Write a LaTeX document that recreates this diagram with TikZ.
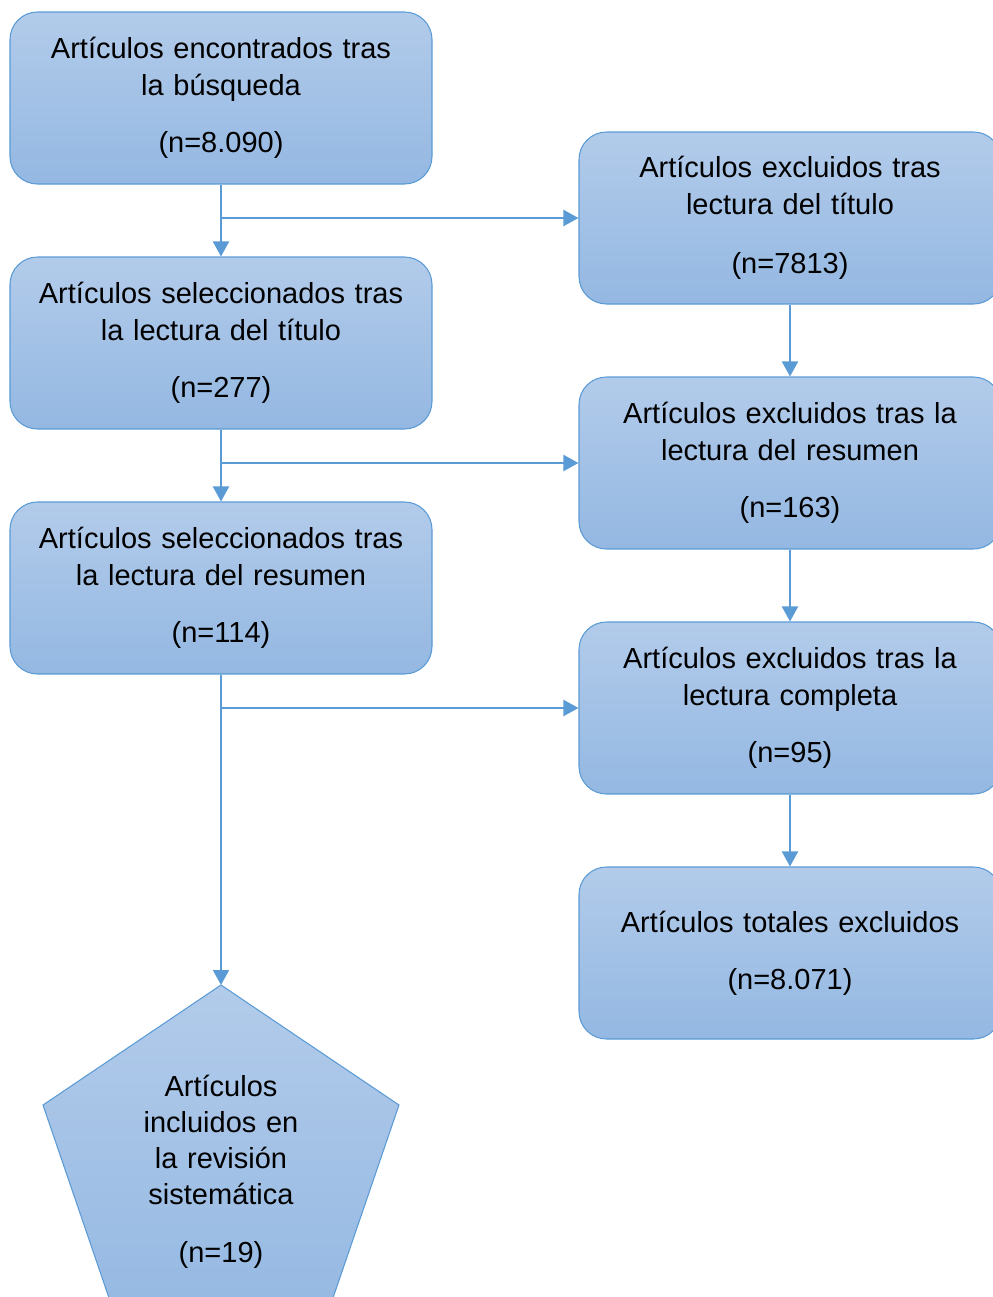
\documentclass[tikz,border=0pt]{standalone}
\usepackage{fontspec}
\setmainfont{Liberation Sans}
\usepackage{xcolor}
\usetikzlibrary{shapes.geometric, arrows.meta}
\definecolor{boxtop}{RGB}{178,203,234}
\definecolor{boxbot}{RGB}{148,184,226}
\definecolor{boxline}{RGB}{91,155,213}
\tikzstyle{block} = [rectangle, draw=boxline, line width=0.6pt, rounded corners=0.55cm, text width=7.9cm, text centered, minimum width=8.44cm, minimum height=3.44cm, top color=boxtop, bottom color=boxbot, font=\fontsize{16.5}{21}\selectfont]
\tikzstyle{pent} = [draw=boxline, line width=0.6pt, top color=boxtop, bottom color=boxbot]
\tikzstyle{blank} = [text width=3.4cm, text centered, inner sep=0, font=\fontsize{16.5}{20.5}\selectfont]
\tikzstyle{line} = [draw=boxline, line width=0.04cm, ->, >={Triangle[length=0.3cm,width=0.32cm]}]

\begin{document}
\begin{tikzpicture}[node distance=4.9cm]

\clip (0,0) rectangle (19.86,-25.94);

\node [block] (L1) at (4.42,-1.96) {Artículos encontrados tras\\la búsqueda\\[0.4cm](n=8.090)};
\node [block, below of=L1] (L2) {Artículos seleccionados tras\\la lectura del título\\[0.4cm](n=277)};
\node [block, below of=L2] (L3) {Artículos seleccionados tras\\la lectura del resumen\\[0.4cm](n=114)};

% pentagon of the included articles
\path [pent] (4.42,-19.70) coordinate (Ptop) -- (7.98,-22.10) -- (6.44,-26.60) -- (2.40,-26.60) -- (0.86,-22.10) -- cycle;
\node [blank] (P) at (4.42,-23.44) {Artículos\\incluidos en\\la revisión\\sistemática\\[0.45cm](n=19)};

\node [block, right of=L1, node distance=11.38cm, yshift=-2.4cm] (R1) {Artículos excluidos tras\\lectura del título\\[0.45cm](n=7813)};
\node [block, below of=R1] (R2) {Artículos excluidos tras la\\lectura del resumen\\[0.4cm](n=163)};
\node [block, below of=R2] (R3) {Artículos excluidos tras la\\lectura completa\\[0.4cm](n=95)};
\node [block, below of=R3] (R4) {Artículos totales excluidos\\[0.4cm](n=8.071)};

% branch points on the left column
\coordinate (j1) at (L1.south |- R1.west);
\coordinate (j2) at (L2.south |- R2.west);
\coordinate (j3) at (L3.south |- R3.west);

\path [line] (L1) -- (L2);
\path [line] (L2) -- (L3);
\path [line] (L3) -- (Ptop);
\path [line] (j1) -- (R1);
\path [line] (j2) -- (R2);
\path [line] (j3) -- (R3);

\path [line] (R1) -- (R2);
\path [line] (R2) -- (R3);
\path [line] (R3) -- (R4);

\end{tikzpicture}
\end{document}
